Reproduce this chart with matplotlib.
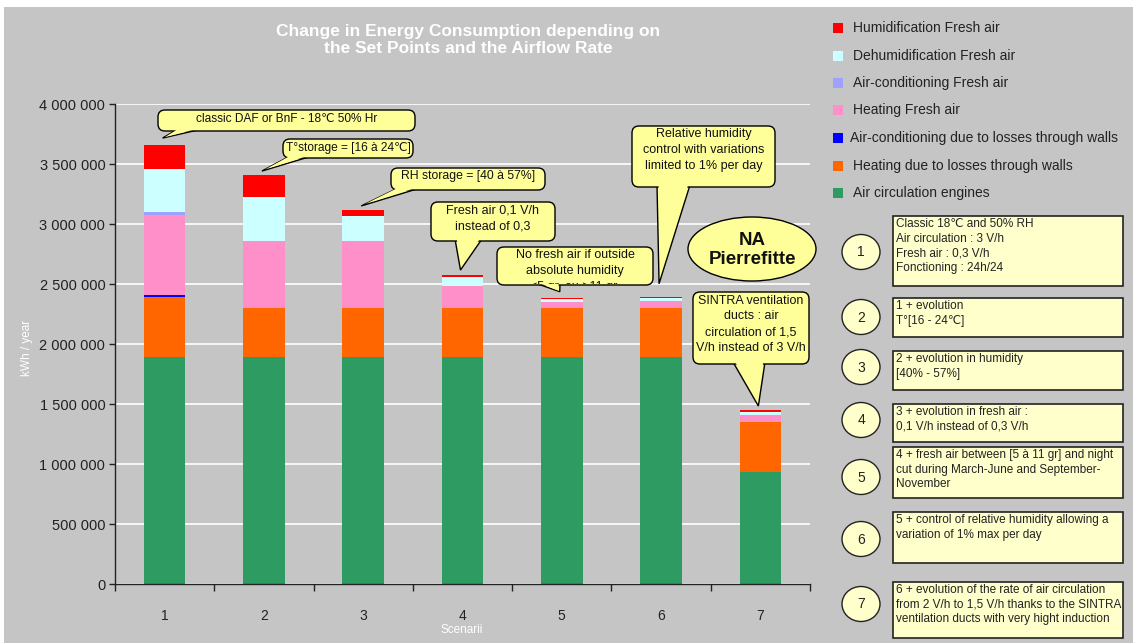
import matplotlib
matplotlib.use("Agg")
import matplotlib.pyplot as plt
from matplotlib.patches import FancyBboxPatch, Polygon, Ellipse, Rectangle
from matplotlib.ticker import FuncFormatter, FixedLocator
from matplotlib.transforms import Bbox
import numpy as np

plt.rcParams["font.family"] = ["Liberation Sans", "DejaVu Sans"]

# ---------------------------------------------------------------- data
scenarios = ["1", "2", "3", "4", "5", "6", "7"]

air_circulation = [1890000, 1890000, 1890000, 1890000, 1890000, 1890000, 936000]
heating_walls = [504000, 407000, 407000, 407000, 407000, 407000, 417000]
aircon_walls = [15000, 0, 0, 0, 0, 0, 0]
heating_fresh = [666000, 561000, 561000, 186000, 56000, 63000, 55000]
aircon_fresh = [25000, 0, 0, 0, 0, 0, 0]
dehumid_fresh = [358000, 370000, 209000, 73000, 19000, 20000, 28000]
humid_fresh = [200000, 180000, 50000, 19000, 14000, 14000, 14000]

series_values = [air_circulation, heating_walls, aircon_walls, heating_fresh,
                 aircon_fresh, dehumid_fresh, humid_fresh]
series_names = ["Air circulation engines",
                "Heating due to losses through walls",
                "Air-conditioning due to losses through walls",
                "Heating Fresh air",
                "Air-conditioning Fresh air",
                "Dehumidification Fresh air",
                "Humidification Fresh air"]
series_colors = ["#2e9c62", "#ff6600", "#0000ff", "#ff8fc8",
                 "#a0a0ff", "#ccffff", "#ff0000"]

y_ticks = [0, 500000, 1000000, 1500000, 2000000, 2500000, 3000000,
           3500000, 4000000]

title = "Change in Energy Consumption depending on\nthe Set Points and the Airflow Rate"
y_label = "kWh / year"
x_label = "Scenarii"

callout_texts = ["classic DAF or BnF - 18\u2103 50% Hr",
                 "T\u00b0storage = [16 \u00e0 24\u2103]",
                 "RH storage = [40 \u00e0 57%]",
                 "Fresh air 0,1 V/h\ninstead of 0,3",
                 "No fresh air if outside\nabsolute humidity\n<5 gr. ou >11 gr.",
                 "Relative humidity\ncontrol with variations\nlimited to 1% per day",
                 "SINTRA ventilation\nducts : air\ncirculation of 1,5\nV/h instead of 3 V/h"]
callout_bar = [0, 1, 2, 3, 4, 5, 6]

site_label = "NA\nPierrefitte"

scenario_notes = ["Classic 18\u2103 and 50% RH\nAir circulation : 3 V/h\nFresh air : 0,3 V/h\nFonctioning : 24h/24",
                  "1 + evolution\nT\u00b0[16 - 24\u2103]",
                  "2 + evolution in humidity\n[40% - 57%]",
                  "3 + evolution in fresh air :\n0,1 V/h instead of 0,3 V/h",
                  "4 + fresh air between [5 \u00e0 11 gr] and night\ncut during March-June and September-\nNovember",
                  "5 + control of relative humidity allowing a\nvariation of 1% max per day",
                  "6 + evolution of the rate of air circulation\nfrom 2 V/h to 1,5 V/h thanks to the SINTRA\nventilation ducts with very hight induction"]

# ---------------------------------------------------------------- figure
W, H = 1133, 643
fig = plt.figure(figsize=(W / 100, H / 100), dpi=100)
fig.patch.set_facecolor("white")

BG = "#c5c5c5"
YEL = "#ffff99"
PALE = "#ffffcc"

# background layer in pixel coordinates
bg = fig.add_axes([0, 0, 1, 1], zorder=0)
bg.set_xlim(0, W)
bg.set_ylim(H, 0)
bg.axis("off")
bg.add_patch(Rectangle((4, 7), W - 4, H - 7, facecolor=BG, edgecolor="none"))

# main chart
ax = fig.add_axes([115 / W, 1 - 584 / H, 695 / W, 480 / H], zorder=1)
ax.set_facecolor(BG)
x = np.arange(1, len(scenarios) + 1)
bottom = np.zeros(len(scenarios))
for vals, col, name in zip(series_values, series_colors, series_names):
    ax.bar(x, vals, 0.42, bottom=bottom, color=col, linewidth=0, label=name,
           zorder=2)
    bottom += np.array(vals)
totals = bottom.copy()

ax.set_xlim(0.5, len(scenarios) + 0.5)
ax.set_ylim(0, 4000000)
ax.yaxis.set_major_locator(FixedLocator(y_ticks))
ax.yaxis.set_major_formatter(FuncFormatter(lambda v, p: f"{int(v):,}".replace(",", " ")))
ax.yaxis.grid(True, color="white", linewidth=1.2)
ax.set_axisbelow(True)

ax.xaxis.set_major_locator(FixedLocator(np.arange(0.5, len(scenarios) + 1, 1)))
ax.xaxis.set_major_formatter(FuncFormatter(lambda v, p: ""))
ax.xaxis.set_minor_locator(FixedLocator(x))
ax.set_xticks(x, scenarios, minor=True)
ax.tick_params(axis="x", which="major", length=5, width=1, color="#222222")
ax.tick_params(axis="x", which="minor", length=0, pad=18, labelsize=10,
               labelcolor="#222222")
ax.tick_params(axis="y", length=4, width=1, color="#222222", pad=3,
               labelsize=10.5, labelcolor="#222222")
for s in ("top", "right"):
    ax.spines[s].set_visible(False)
for s in ("left", "bottom"):
    ax.spines[s].set_color("#222222")
    ax.spines[s].set_linewidth(1)

# overlay in pixel coordinates for annotations
ov = fig.add_axes([0, 0, 1, 1], zorder=3)
ov.set_xlim(0, W)
ov.set_ylim(H, 0)
ov.axis("off")
ov.patch.set_alpha(0)


def to_px(xd, yd):
    return ov.transData.inverted().transform(ax.transData.transform((xd, yd)))


ov.text(468, 40, title, ha="center", va="center", color="white",
        fontsize=12.5, fontweight="bold", linespacing=1.2)
ov.text(27, 348, y_label, ha="center", va="center", color="white",
        fontsize=8.5, rotation=90)
ov.text(462, 630, x_label, ha="center", va="center", color="white",
        fontsize=8.5)

# ---------------------------------------------------------------- callouts
boxes = [(158, 110, 415, 131), (283, 139, 413, 158), (391, 168, 545, 190),
         (431, 202, 555, 241), (497, 247, 653, 285), (632, 126, 775, 187),
         (693, 292, 809, 364)]
tail_bases = [(178, 202), (290, 312), (398, 420), (455, 482), (535, 560),
              (657, 690), (733, 765)]
tip_lift = [7, 4, 4, 5, 6, 13, 4]
text_sizes = [8.6, 8.6, 8.8, 9, 9, 9, 9]


def callout(box, base, tip, text, fs, clip=False):
    x0, y0, x1, y1 = box
    tail = Polygon([(base[0], y1 - 2), (base[1], y1 - 2), tip], closed=True,
                   facecolor=YEL, edgecolor="black", linewidth=1, zorder=4)
    ov.add_patch(tail)
    rect = FancyBboxPatch((x0, y0), x1 - x0, y1 - y0,
                          boxstyle="round,pad=0,rounding_size=7",
                          facecolor=YEL, edgecolor="black", linewidth=1,
                          zorder=5)
    ov.add_patch(rect)
    tx, ty = tip
    cover = Polygon([(base[0] + 1.6, y1 - 3), (base[1] - 1.6, y1 - 3),
                     (tx + (0.5 * (base[0] + base[1]) - tx) * 0.08,
                      ty + (y1 - ty) * 0.12)],
                    closed=True, facecolor=YEL, edgecolor="none", zorder=6)
    ov.add_patch(cover)
    t = ov.text(0.5 * (x0 + x1), y0 + 2.5, text, ha="center", va="top",
                fontsize=fs, color="#111111", linespacing=1.42, zorder=7)
    if clip:
        # keep overflowing lines inside the box (display pixels, y up)
        t.set_clip_on(True)
        t.set_clip_box(Bbox([[x0 + 1, H - y1 + 1], [x1 - 1, H - y0 - 1]]))


for i, (box, base, txt) in enumerate(zip(boxes, tail_bases, callout_texts)):
    b = callout_bar[i]
    px, py = to_px(x[b], totals[b])
    callout(box, base, (px - 2, py - tip_lift[i]), txt, text_sizes[i],
            clip=(i == 4))

ov.add_patch(Ellipse((752, 249), 128, 64, facecolor=YEL, edgecolor="black",
                     linewidth=1, zorder=5))
ov.text(752, 250, site_label, ha="center", va="center", fontsize=13.5,
        fontweight="bold", color="#111111", linespacing=1.2, zorder=7)

# ---------------------------------------------------------------- legend
legend_y = [28, 56, 83, 110, 138, 166, 193]
for k, yy in enumerate(legend_y):
    idx = len(series_names) - 1 - k
    ov.add_patch(Rectangle((833, yy - 5), 10, 10, facecolor=series_colors[idx],
                           edgecolor="none", zorder=4))
    tx = 850 if idx == 2 else 853
    ov.text(tx, yy, series_names[idx], ha="left", va="center", fontsize=10,
            color="#222222", zorder=4)

# ---------------------------------------------------------------- scenario notes
note_boxes = [(216, 286), (298, 337), (351, 390), (404, 442), (447, 498),
              (512, 563), (582, 638)]
circle_y = [252, 317, 367, 420, 477, 539, 604]
for k, ((y0, y1), cy, note) in enumerate(zip(note_boxes, circle_y, scenario_notes)):
    ov.add_patch(Ellipse((861, cy), 38, 35, facecolor=PALE, edgecolor="#222222",
                         linewidth=1, zorder=4))
    ov.text(861, cy + 0.5, scenarios[k], ha="center", va="center", fontsize=10,
            color="#222222", zorder=5)
    ov.add_patch(Rectangle((893, y0), 230, y1 - y0, facecolor=PALE,
                           edgecolor="#222222", linewidth=1.2, zorder=4))
    ov.text(896, y0 + 2, note, ha="left", va="top", fontsize=8.5,
            color="#222222", linespacing=1.3, zorder=5)

fig.savefig("out.png", dpi=100, facecolor=fig.get_facecolor())
